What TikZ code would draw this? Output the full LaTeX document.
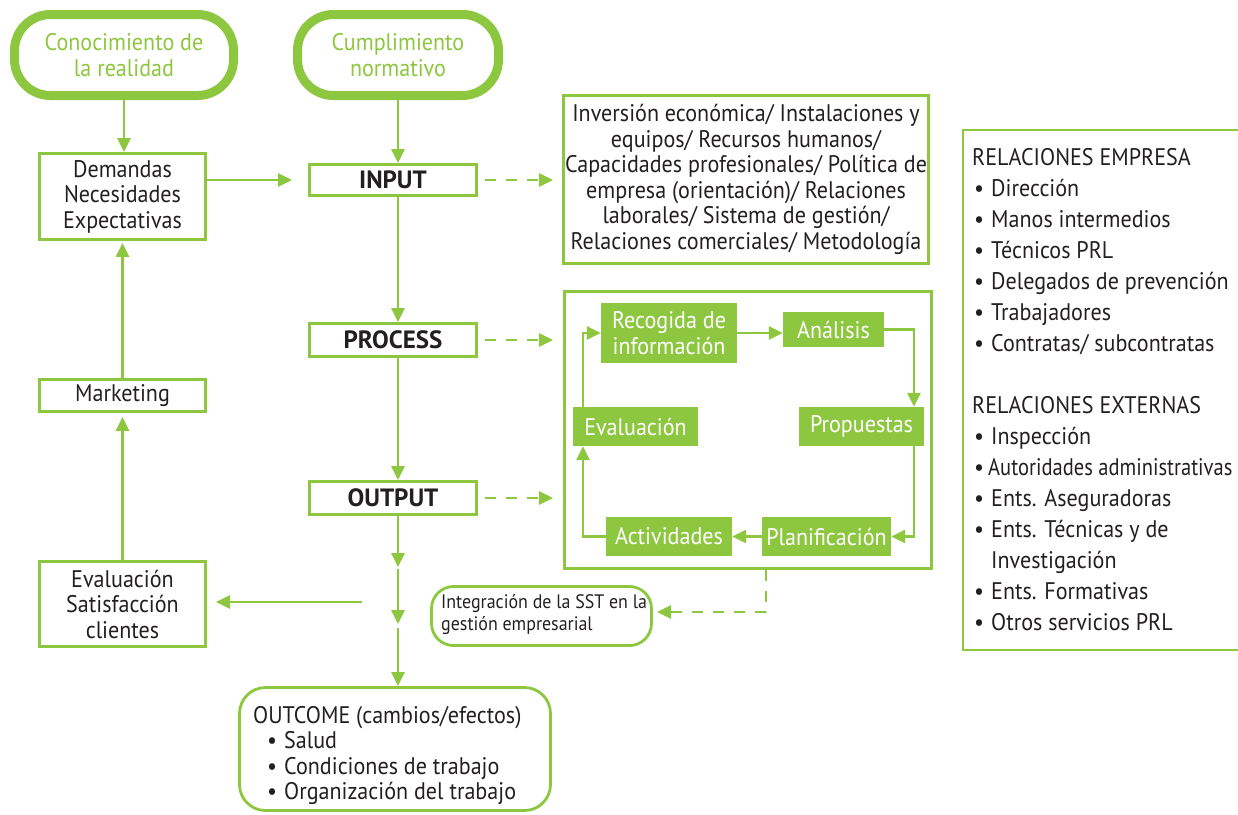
\documentclass[tikz,border=0pt]{standalone}
\usepackage{fontspec}
\setmainfont[FakeStretch=0.92]{PT Sans}
\newfontfamily\plainpt{PT Sans}
\usetikzlibrary{arrows.meta}
\definecolor{gr}{HTML}{8DC63F}
\definecolor{ink}{HTML}{231F20}
\newcommand{\fs}{\fontsize{24pt}{25.5pt}\selectfont}
\newcommand{\bul}{\makebox[19pt][l]{\hspace{2pt}\textbullet}}
\begin{document}
\begin{tikzpicture}[x=1pt,y=-1pt,
  tip/.style={-{Triangle[length=14pt,width=13pt]}},
  conn/.style={draw=gr,line width=2.6pt,tip},
  dconn/.style={conn,dash pattern=on 11pt off 10pt},
  topbox/.style={draw=gr,line width=9pt,rounded corners=36pt,text=gr,align=center,font=\fs,inner sep=0pt},
  wbox/.style={draw=gr,line width=2.8pt,fill=white,text=ink,align=center,font=\fs,inner sep=0pt},
  bbox/.style={wbox,font=\plainpt\fontsize{25pt}{26pt}\selectfont\bfseries},
  gbox/.style={fill=gr,text=white,align=center,font=\fs,inner sep=0pt},
  rbox/.style={draw=gr,line width=2.8pt,rounded corners=22pt,inner sep=0pt}
]
\useasboundingbox (0,0) rectangle (1238,814);

% top rounded boxes
\node[topbox,minimum width=219,minimum height=81] (con) at (124,55) {Conocimiento de\\la realidad};
\node[topbox,minimum width=201,minimum height=81] (cum) at (398,55) {Cumplimiento\\normativo};

% left column
\node[wbox,minimum width=166,minimum height=86] (dem) at (122.5,196.5) {Demandas\\Necesidades\\Expectativas};
\node[wbox,minimum width=166,minimum height=32] (mk) at (122.5,395.5) {Marketing};
\node[wbox,minimum width=166,minimum height=85] (evs) at (122.5,604) {Evaluaci\'on\\Satisfacci\'on\\clientes};

% centre column
\node[bbox,minimum width=167,minimum height=31] (in) at (393,180) {INPUT};
\node[bbox,minimum width=167,minimum height=33] (pr) at (393,340) {PROCESS};
\node[bbox,minimum width=167,minimum height=33] (out) at (393,498) {OUTPUT};

% input resources box
\node[wbox,minimum width=365,minimum height=168] (inbox) at (746,179.5)
 {Inversi\'on econ\'omica/ Instalaciones y\\equipos/ Recursos humanos/\\Capacidades profesionales/ Pol\'itica de\\empresa (orientaci\'on)/ Relaciones\\laborales/ Sistema de gesti\'on/\\Relaciones comerciales/ Metodolog\'ia};

% process box
\node[draw=gr,line width=2.8pt,minimum width=367,minimum height=277,inner sep=0pt] (pbox) at (748,430) {};
\node[gbox,minimum width=136,minimum height=60] (rec) at (669,333) {Recogida de\\informaci\'on};
\node[gbox,minimum width=101,minimum height=35] (an) at (833.5,329.5) {An\'alisis};
\node[gbox,minimum width=125,minimum height=39] (pro) at (861.5,426.5) {Propuestas};
\node[gbox,minimum width=125,minimum height=39] (ev) at (635.5,426.5) {Evaluaci\'on};
\node[gbox,minimum width=126,minimum height=39] (ac) at (669,536.5) {Actividades};
\node[gbox,minimum width=129,minimum height=39] (pl) at (826.5,536.5) {Planificaci\'on};

% integration box
\node[rbox,minimum width=220,minimum height=59] (integ) at (541.5,616) {};
\node[anchor=west,align=left,text=ink,inner sep=0pt,font=\fontsize{19.5pt}{22pt}\selectfont] (integtxt) at (441,615)
 {Integraci\'on de la SST en la\\gesti\'on empresarial};

% outcome box
\node[rbox,minimum width=311,minimum height=123,rounded corners=26pt] (oc) at (395,749) {};
\node[anchor=north west,align=left,text=ink,font=\fs,inner sep=0pt] (octxt) at (253,706)
 {OUTCOME (cambios/efectos)\\
  \hspace{12pt}\bul Salud\\
  \hspace{12pt}\bul Condiciones de trabajo\\
  \hspace{12pt}\bul Organizaci\'on del trabajo};

% relations box (right edge outside the picture)
\coordinate (rtl) at (963,130);
\coordinate (rbl) at (963,650);
\draw[gr,line width=2.8pt] (1242,130) -- (rtl) -- (rbl) -- (1242,650);
\node[anchor=north west,align=left,text=ink,inner sep=0pt,font=\fontsize{24pt}{31pt}\selectfont] (rel) at (972,148)
 {RELACIONES EMPRESA\\
  \bul Direcci\'on\\
  \bul Manos intermedios\\
  \bul T\'ecnicos PRL\\
  \bul Delegados de prevenci\'on\\
  \bul Trabajadores\\
  \bul Contratas/ subcontratas\\[31pt]
  RELACIONES EXTERNAS\\
  \bul Inspecci\'on\\
  \makebox[16pt][l]{\hspace{2pt}\textbullet}\scalebox{0.93}[1]{Autoridades administrativas}\\
  \bul Ents. Aseguradoras\\
  \bul Ents. T\'ecnicas y de\\
  \hspace{19pt}Investigaci\'on\\
  \bul Ents. Formativas\\
  \bul Otros servicios PRL};

% connectors left/top
\draw[conn] (con.south) -- (con.south |- dem.north);
\draw[conn] (cum.south) -- (cum.south |- in.north);
\draw[conn,shorten >=16pt] (dem.east |- in.west) -- (in.west);
\draw[conn,shorten >=4pt] (evs.north) -- (evs.north |- mk.south);
\draw[conn,shorten >=2pt] (mk.north) -- (mk.north |- dem.south);

% centre spine
\coordinate (c1) at (398,567);
\coordinate (c2) at (398,569);
\coordinate (c3) at (398,624);
\coordinate (c4) at (398,628);
\coordinate (h1) at (362,602);
\draw[conn] (in.south -| cum.south) -- (pr.north -| cum.south);
\draw[conn] (pr.south -| cum.south) -- (out.north -| cum.south);
\draw[conn] (out.south -| cum.south) -- (c1);
\draw[conn] (c2) -- (c3);
\draw[conn] (c4) -- (c4 |- oc.north);
\draw[conn,shorten >=9pt] (h1) -- (h1 -| evs.east);

% dashed arrows
\draw[dconn,shorten <=7pt,shorten >=10pt] (in.east) -- (in.east -| pbox.west);
\draw[dconn,shorten <=7pt,shorten >=10pt] (pr.east) -- (pr.east -| pbox.west);
\draw[dconn,shorten <=7pt,shorten >=10pt] (out.east) -- (out.east -| pbox.west);
\coordinate (pd) at (766,612);
\draw[dconn,shorten >=4pt] (pbox.south -| pd) -- (pd) -- (pd -| integ.east);

% process cycle
\coordinate (kx) at (914,400);
\coordinate (mx) at (583,400);
\draw[conn] (rec.east) -- (rec.east -| an.west);
\draw[conn] (an.east) -- (an.east -| kx) -- (kx |- pro.north);
\draw[conn] (kx |- pro.south) -- (kx |- pl.east) -- (pl.east);
\draw[conn] (pl.west) -- (ac.east);
\draw[conn] (ac.west) -- (ac.west -| mx) -- (mx |- ev.south);
\draw[conn] (mx |- ev.north) -- (mx |- rec.west) -- (rec.west);
\end{tikzpicture}
\end{document}
